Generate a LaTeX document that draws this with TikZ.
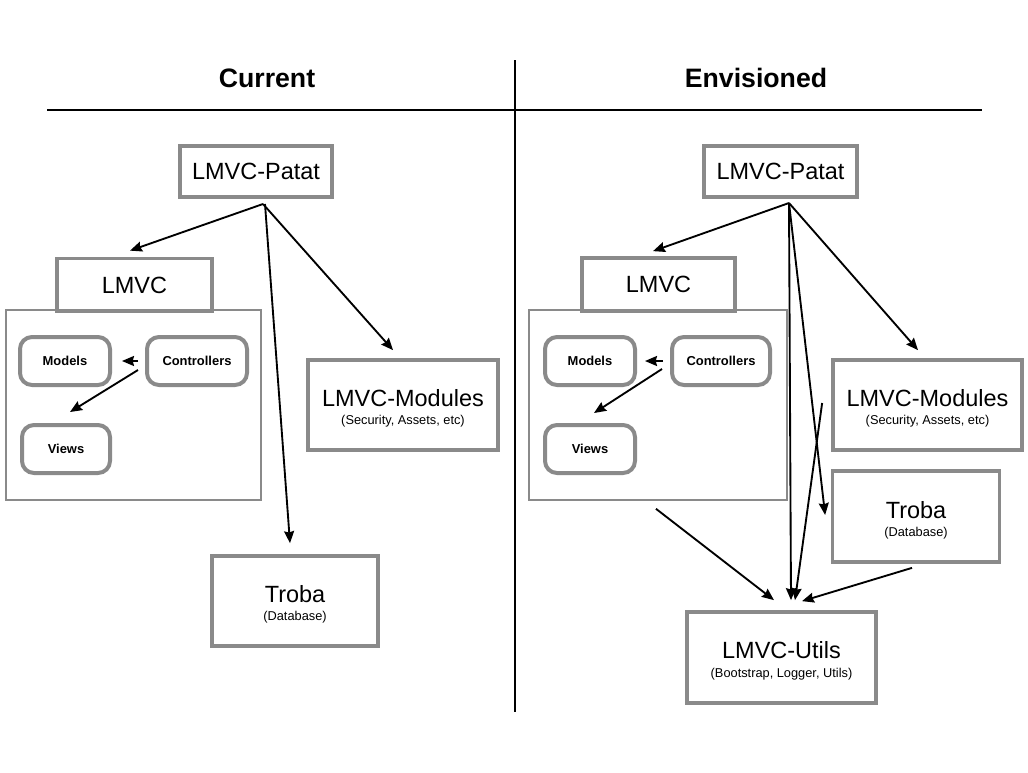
\documentclass[tikz,border=0pt]{standalone}
\usepackage{fontspec}
\setmainfont{Liberation Sans}
\usetikzlibrary{arrows.meta,calc}
\definecolor{boxgray}{RGB}{138,138,138}
\begin{document}
\begin{tikzpicture}[x=0.75pt,y=-0.75pt,
  box/.style 2 args={draw=boxgray,line width=2.8pt,inner sep=0pt,
    minimum width={#1*0.75pt},minimum height={#2*0.75pt},
    font=\fontsize{17.6}{20}\selectfont},
  mvc/.style 2 args={draw=boxgray,line width=3pt,rounded corners=9pt,inner sep=0pt,
    minimum width={#1*0.75pt},minimum height={#2*0.75pt},
    font=\bfseries\fontsize{9.7}{11}\selectfont},
  cont/.style 2 args={draw=boxgray,line width=1.2pt,inner sep=0pt,
    minimum width={#1*0.75pt},minimum height={#2*0.75pt}},
  maintxt/.style={inner sep=0pt,anchor=base,font=\fontsize{17.6}{20}\selectfont},
  subtxt/.style={inner sep=0pt,anchor=base,font=\fontsize{9.6}{11}\selectfont},
  title/.style={inner sep=0pt,font=\bfseries\fontsize{20}{24}\selectfont},
  arr/.style={line width=1.4pt,-{Stealth[length=9pt,width=7.5pt,inset=1pt]}},
  sep/.style={line width=1.3pt}]
\useasboundingbox (0,0) rectangle (1028,772);

% titles and separators
\node[title] (tcur) at (267,78) {Current};
\node[title] (tenv) at (756,78) {Envisioned};
\coordinate (hl) at (47,110);
\coordinate (hr) at (982,110);
\coordinate (vt) at (515,60);
\coordinate (vb) at (515,712);
\draw[sep] (hl) -- (hr);
\draw[sep] (vt) -- (vb);

% ---------------- left: current
\node[box={152}{51}] (patatL) at (256,171.5) {LMVC-Patat};
\node[cont={255}{190}] (contL) at (133.5,405) {};
\node[box={155}{53}] (lmvcL) at (134.5,285) {LMVC};
\node[mvc={90}{48}] (modelsL) at (65,361) {Models};
\node[mvc={100}{48}] (ctrlL) at (197,361) {Controllers};
\node[mvc={88}{48}] (viewsL) at (66,449) {Views};
\node[box={190}{90}] (modulesL) at (403,405) {};
\node[maintxt] (modulesLt) at ($(modulesL.center)+(0,1.5)$) {LMVC-Modules};
\node[subtxt] (modulesLs) at ($(modulesL.center)+(0,19.5)$) {(Security, Assets, etc)};
\node[box={166}{90}] (trobaL) at (295,601) {};
\node[maintxt] (trobaLt) at ($(trobaL.center)+(0,1.5)$) {Troba};
\node[subtxt] (trobaLs) at ($(trobaL.center)+(0,19.5)$) {(Database)};

\coordinate (pL) at (263,204);
\draw[arr] (pL) -- ($(lmvcL.north)+(-4.5,-6)$);
\draw[arr] (pL) -- ($(modulesL.north)+(-10,-8)$);
\draw[arr] ($(pL)+(2,0)$) -- ($(trobaL.north)+(-5,-11)$);
\draw[arr] ($(ctrlL.west)+(-7,0)$) -- ($(modelsL.east)+(10,0)$);
\draw[arr] ($(ctrlL.west)+(-7,9)$) -- ($(viewsL.north)+(4,-11)$);

% ---------------- right: envisioned
\node[box={153}{51}] (patatR) at (780.5,171.5) {LMVC-Patat};
\node[cont={258}{190}] (contR) at (658,405) {};
\node[box={153}{53}] (lmvcR) at (658.5,284.5) {LMVC};
\node[mvc={90}{48}] (modelsR) at (590,361) {Models};
\node[mvc={98}{48}] (ctrlR) at (721,361) {Controllers};
\node[mvc={90}{48}] (viewsR) at (590,449) {Views};
\node[box={189}{90}] (modulesR) at (927.5,405) {};
\node[maintxt] (modulesRt) at ($(modulesR.center)+(0,1.5)$) {LMVC-Modules};
\node[subtxt] (modulesRs) at ($(modulesR.center)+(0,19.5)$) {(Security, Assets, etc)};
\node[box={167}{91}] (trobaR) at (916,516.5) {};
\node[maintxt] (trobaRt) at ($(trobaR.center)+(0,1.5)$) {Troba};
\node[subtxt] (trobaRs) at ($(trobaR.center)+(0,19.5)$) {(Database)};
\node[box={189}{91}] (utilsR) at (781.5,657.5) {};
\node[maintxt] (utilsRt) at ($(utilsR.center)+(0,1)$) {LMVC-Utils};
\node[subtxt] (utilsRs) at ($(utilsR.center)+(0,19.5)$) {(Bootstrap, Logger, Utils)};

\coordinate (pR) at (789,203);
\draw[arr] (pR) -- ($(lmvcR.north)+(-5.5,-5)$);
\draw[arr] (pR) -- ($(modulesR.north)+(-9.5,-8)$);
\draw[arr] (pR) -- ($(trobaR.west)+(-5.5,-1.5)$);
\draw[arr] (pR) -- ($(utilsR.north)+(9.5,-10)$);
\draw[arr] ($(modulesR.west)+(-9,-2)$) -- ($(utilsR.north)+(13.5,-10)$);
\draw[arr] ($(trobaR.south)+(-4,4)$) -- ($(utilsR.north)+(20.5,-9)$);
\draw[arr] ($(contR.south)+(-2,8)$) -- ($(utilsR.north)+(-7.5,-10)$);
\draw[arr] ($(ctrlR.west)+(-7,0)$) -- ($(modelsR.east)+(8,0)$);
\draw[arr] ($(ctrlR.west)+(-8,8)$) -- ($(viewsR.north)+(4,-10)$);
\end{tikzpicture}
\end{document}
